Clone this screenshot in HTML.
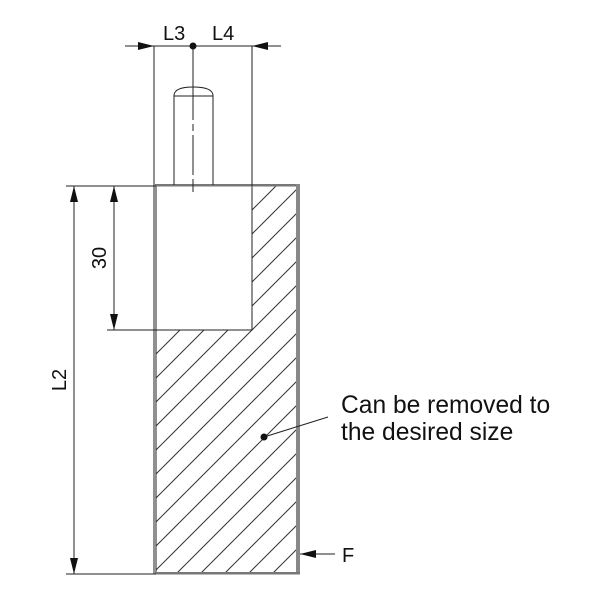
<!DOCTYPE html>
<html><head><style>body{margin:0;background:#fff}svg{display:block}</style></head><body>
<svg width="600" height="600" viewBox="0 0 600 600" xmlns="http://www.w3.org/2000/svg" font-family="Liberation Sans, Arial, sans-serif">
<defs>
<pattern id="h" patternUnits="userSpaceOnUse" width="24" height="24" x="6" y="0">
<line x1="0" y1="24" x2="24" y2="0" stroke="#333" stroke-width="1"/>
<line x1="-12" y1="12" x2="12" y2="-12" stroke="#333" stroke-width="1"/>
<line x1="12" y1="36" x2="36" y2="12" stroke="#333" stroke-width="1"/>
</pattern>
</defs>
<rect x="156" y="330" width="142" height="243" fill="url(#h)"/>
<rect x="252" y="186" width="46" height="144" fill="url(#h)"/>
<g stroke="#222" fill="none" stroke-width="1">
<path d="M252 186 V330 H156"/>
<path d="M154 186 V574"/>
<path d="M156 186 V574"/>
</g>
<rect x="155" y="184" width="144" height="2.5" fill="#777"/>
<rect x="296" y="184" width="4" height="390" fill="#888"/>
<rect x="155" y="572" width="145" height="2.5" fill="#777"/>
<g stroke="#222" fill="none" stroke-width="1">
<path d="M174 185 V95 M213 185 V95 M174 96 H213"/>
<path d="M174 95 Q175 87 193 87 Q212 87 213 95"/>
<path d="M193 46 V120 M193 124 V131 M193 135 V175 M193 179 V192"/>
<path d="M154 46 V186 M252 46 V186"/>
<path d="M125 46 H281"/>
<path d="M66 186 H156 M66 574 H156 M107 330 H156"/>
<path d="M74 186 V574 M114 186 V330"/>
<path d="M264 437 L328 417"/>
<path d="M300 554 H335"/>
</g>
<circle cx="193" cy="46" r="3.5" fill="#111"/>
<circle cx="264" cy="437" r="3.5" fill="#111"/>
<g fill="#111">
<path d="M154 46 L138 42 L138 50 Z"/>
<path d="M252 46 L268 42 L268 50 Z"/>
<path d="M74 186 L70 202 L78 202 Z"/>
<path d="M74 574 L70 558 L78 558 Z"/>
<path d="M114 186 L110 202 L118 202 Z"/>
<path d="M114 330 L110 314 L118 314 Z"/>
<path d="M300 554 L316 550 L316 558 Z"/>
</g>
<g font-size="20" fill="#111">
<text x="163" y="40">L3</text>
<text x="212" y="40">L4</text>
<text x="342" y="562">F</text>
<text transform="translate(106,258) rotate(-90)" text-anchor="middle">30</text>
<text transform="translate(66,380) rotate(-90)" text-anchor="middle">L2</text>
</g>
<g font-size="24.6" fill="#111">
<text x="341" y="413">Can be removed to</text>
<text x="341" y="440">the desired size</text>
</g>
</svg>
</body></html>
